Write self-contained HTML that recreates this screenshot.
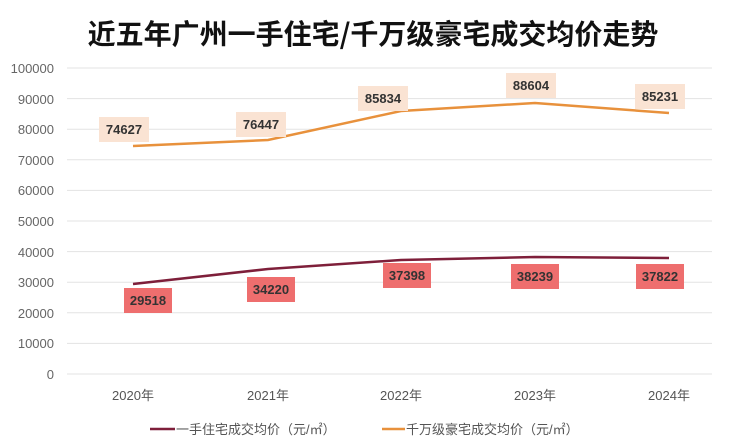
<!DOCTYPE html><html><head><meta charset="utf-8"><style>body{margin:0;background:#fff}svg{display:block}</style></head><body>
<svg width="740" height="442" xmlns="http://www.w3.org/2000/svg" font-family="Liberation Sans, Noto Sans CJK SC, sans-serif">
<text x="373" y="44" text-anchor="middle" font-size="28" font-weight="bold" fill="#111" font-family="Noto Sans CJK SC, sans-serif">近五年广州一手住宅/千万级豪宅成交均价走势</text>
<g stroke="#e3e3e3" stroke-width="1">
<line x1="67" x2="712" y1="68" y2="68"/><line x1="67" x2="712" y1="98.6" y2="98.6"/><line x1="67" x2="712" y1="129.2" y2="129.2"/><line x1="67" x2="712" y1="159.8" y2="159.8"/><line x1="67" x2="712" y1="190.4" y2="190.4"/><line x1="67" x2="712" y1="221" y2="221"/><line x1="67" x2="712" y1="251.6" y2="251.6"/><line x1="67" x2="712" y1="282.2" y2="282.2"/><line x1="67" x2="712" y1="312.8" y2="312.8"/><line x1="67" x2="712" y1="343.4" y2="343.4"/><line x1="67" x2="712" y1="374" y2="374"/>
</g>
<g font-size="13" fill="#666" text-anchor="end">
<text x="54" y="73">100000</text><text x="54" y="104">90000</text><text x="54" y="134">80000</text><text x="54" y="165">70000</text><text x="54" y="195">60000</text><text x="54" y="226">50000</text><text x="54" y="257">40000</text><text x="54" y="287">30000</text><text x="54" y="318">20000</text><text x="54" y="348">10000</text><text x="54" y="379">0</text>
</g>
<g font-size="13" fill="#555" text-anchor="middle">
<text x="133" y="400">2020年</text><text x="268" y="400">2021年</text><text x="401" y="400">2022年</text><text x="535" y="400">2023年</text><text x="669" y="400">2024年</text>
</g>
<polyline fill="none" stroke="#e8913c" stroke-width="2.5" points="133,146 268,140 401,111 535,103 669,113"/>
<polyline fill="none" stroke="#7e1f3a" stroke-width="2.5" points="133,284 268,269 401,260 535,257 669,258"/>
<g font-size="13" font-weight="bold" fill="#333" text-anchor="middle">
<rect x="99" y="117" width="50" height="25" fill="#fae3d3"/><text x="124" y="134">74627</text>
<rect x="236" y="112" width="50" height="25" fill="#fae3d3"/><text x="261" y="129">76447</text>
<rect x="358" y="86" width="50" height="25" fill="#fae3d3"/><text x="383" y="103">85834</text>
<rect x="506" y="73" width="50" height="25" fill="#fae3d3"/><text x="531" y="90">88604</text>
<rect x="635" y="84" width="50" height="25" fill="#fae3d3"/><text x="660" y="101">85231</text>
<rect x="124" y="288" width="48" height="25" fill="#ee6e6e"/><text x="148" y="305">29518</text>
<rect x="247" y="277" width="48" height="25" fill="#ee6e6e"/><text x="271" y="294">34220</text>
<rect x="383" y="263" width="48" height="25" fill="#ee6e6e"/><text x="407" y="280">37398</text>
<rect x="511" y="264" width="48" height="25" fill="#ee6e6e"/><text x="535" y="281">38239</text>
<rect x="636" y="264" width="48" height="25" fill="#ee6e6e"/><text x="660" y="281">37822</text>
</g>
<line x1="150" x2="175" y1="429" y2="429" stroke="#7e1f3a" stroke-width="2.5"/>
<text x="176" y="434" font-size="13" fill="#555">一手住宅成交均价（元/㎡）</text>
<line x1="382" x2="405" y1="429" y2="429" stroke="#e8913c" stroke-width="2.5"/>
<text x="406" y="434" font-size="13" fill="#555">千万级豪宅成交均价（元/㎡）</text>
</svg></body></html>
